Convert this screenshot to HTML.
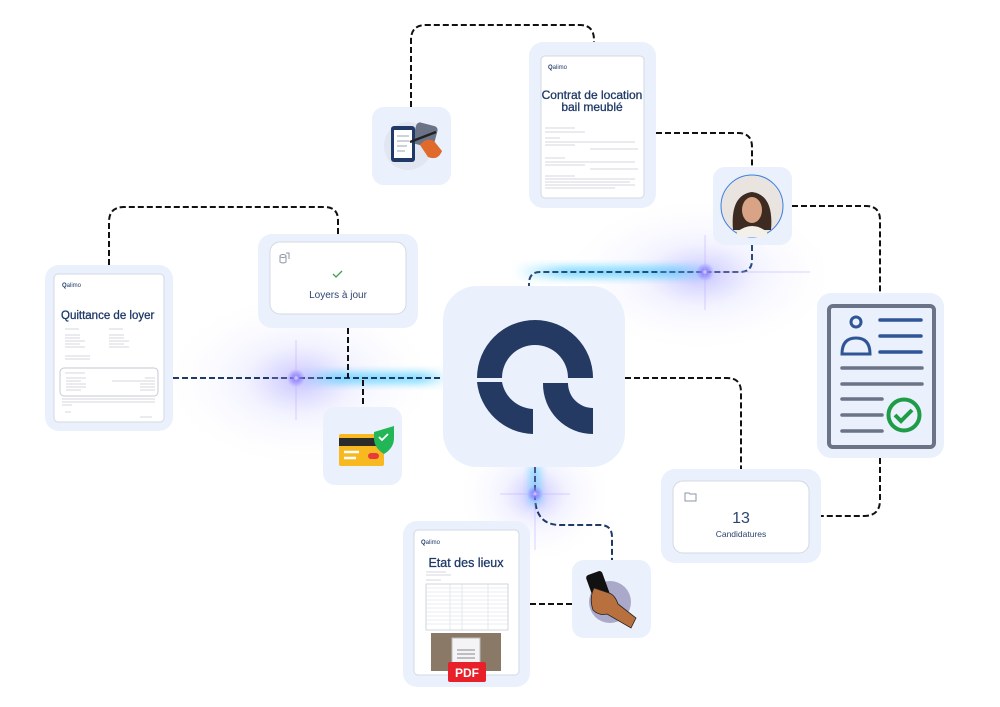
<!DOCTYPE html>
<html><head><meta charset="utf-8"><style>
html,body{margin:0;padding:0;background:#fff;}
svg{display:block;font-family:"Liberation Sans",sans-serif;}
</style></head><body>
<svg width="1000" height="707" viewBox="0 0 1000 707" xmlns="http://www.w3.org/2000/svg">
<defs>
<radialGradient id="g1"><stop offset="0" stop-color="#7a6cff" stop-opacity=".4"/><stop offset=".4" stop-color="#9a9cff" stop-opacity=".12"/><stop offset="1" stop-color="#fff" stop-opacity="0"/></radialGradient>
<radialGradient id="g2"><stop offset="0" stop-color="#fff"/><stop offset=".3" stop-color="#8a7bff" stop-opacity=".8"/><stop offset="1" stop-color="#8a7bff" stop-opacity="0"/></radialGradient>
<linearGradient id="cy" x1="0" x2="1"><stop offset="0" stop-color="#38c8ff" stop-opacity="0"/><stop offset=".25" stop-color="#38c8ff" stop-opacity=".6"/><stop offset=".8" stop-color="#38c8ff" stop-opacity=".6"/><stop offset="1" stop-color="#38c8ff" stop-opacity="0"/></linearGradient>
<filter id="bl" x="-50%" y="-50%" width="200%" height="200%"><feGaussianBlur stdDeviation="4"/></filter>
</defs>

<ellipse cx="300" cy="380" rx="140" ry="90" fill="url(#g1)"/>
<ellipse cx="700" cy="275" rx="140" ry="80" fill="url(#g1)"/>
<ellipse cx="535" cy="495" rx="80" ry="70" fill="url(#g1)"/>
<rect x="300" y="372" width="150" height="12" fill="url(#cy)" filter="url(#bl)"/>
<rect x="515" y="266" width="200" height="12" fill="url(#cy)" filter="url(#bl)"/>
<rect x="529" y="465" width="12" height="40" fill="#38c8ff" opacity=".45" filter="url(#bl)"/>

<g fill="none" stroke="#111" stroke-width="2" stroke-dasharray="6 3">
<path d="M411 107 V40 Q411 25 426 25 H580 Q594 25 594 40 V42"/>
<path d="M656 133 H738 Q752 133 752 147 V167"/>
<path d="M792 206 H866 Q880 206 880 220 V293"/>
<path d="M752 245 V260 Q752 272 740 272 H540 Q529 272 529 284 V286" stroke="#2a4a78"/>
<path d="M109 265 V222 Q109 207 124 207 H324 Q338 207 338 220 V234"/>
<path d="M173 378 H443" stroke="#1e3a66"/>
<path d="M348 328 V378"/>
<path d="M363 380 V407"/>
<path d="M625 378 H727 Q741 378 741 392 V469"/>
<path d="M880 458 V500 Q880 516 864 516 H821"/>
<path d="M535 467 V500 Q537 525 560 525 H600 Q612 525 612 537 V560" stroke="#1e3a66"/>
<path d="M530 604 H572"/>
</g>
<g>
<circle cx="296" cy="378" r="9" fill="url(#g2)"/><path d="M296 340 V420 M270 378 H322" stroke="#b9a8ff" stroke-width="1" opacity=".5"/>
<circle cx="705" cy="272" r="9" fill="url(#g2)"/><path d="M705 235 V310 M660 272 H810" stroke="#b9a8ff" stroke-width="1" opacity=".5"/>
<circle cx="535" cy="494" r="8" fill="url(#g2)"/><path d="M535 465 V550 M500 494 H570" stroke="#b9a8ff" stroke-width="1" opacity=".5"/>
</g>

<rect x="372" y="107" width="79" height="78" rx="12" fill="#eaf1fc"/>
<circle cx="408" cy="146" r="24" fill="#e1e6f0"/>
<rect x="414" y="124" width="22" height="22" rx="4" fill="#6b7386" transform="rotate(15 425 135)"/>
<rect x="391" y="126" width="24" height="36" rx="3" fill="#1f3a68"/>
<rect x="394" y="130" width="18" height="28" fill="#fff"/>
<path d="M397 136h12M397 141h12M397 146h10M397 151h8" stroke="#9aa3b5" stroke-width="1"/>
<path d="M410 142 L436 132" stroke="#222" stroke-width="2.5"/>
<path d="M420 145 q6 -8 14 -4 l8 10 q-4 10 -14 6 z" fill="#e06a2c"/>

<rect x="529" y="42" width="127" height="166" rx="14" fill="#eaf1fc"/>
<rect x="541" y="56" width="103" height="142" rx="4" fill="#fff" stroke="#d3d8e3"/>
<text x="548" y="69" font-size="6" fill="#1f3a68" font-weight="bold">Q<tspan font-weight="normal">alimo</tspan></text>
<text x="592" y="99" font-size="12" fill="#1f3a68" text-anchor="middle" stroke="#1f3a68" stroke-width=".3">Contrat de location</text>
<text x="592" y="111" font-size="12" fill="#1f3a68" text-anchor="middle" stroke="#1f3a68" stroke-width=".3">bail meublé</text>
<g stroke="#c5cad4" stroke-width=".8"><path d="M545 128h30M545 132h40M545 138h15M545 142h90M545 145h30M590 149h48M545 158h20M545 162h90M545 165h40M590 169h48M545 176h30M545 179h90M545 182h85M545 185h90M545 188h70"/></g>

<rect x="713" y="167" width="79" height="78" rx="12" fill="#eaf1fc"/>
<circle cx="752" cy="206" r="31" fill="#e9e4df" stroke="#3a7de0" stroke-width="1"/>
<path d="M733 230 q-3 -35 19 -38 q22 3 19 38 z" fill="#3d2a20"/>
<ellipse cx="752" cy="210" rx="10" ry="13" fill="#d9a485"/>
<path d="M737 232 q15 -12 30 0 l0 5 l-30 0 z" fill="#f3efe9"/>

<rect x="45" y="265" width="128" height="166" rx="14" fill="#eaf1fc"/>
<rect x="54" y="274" width="110" height="148" rx="4" fill="#fff" stroke="#d3d8e3"/>
<text x="62" y="287" font-size="6" fill="#1f3a68" font-weight="bold">Q<tspan font-weight="normal">alimo</tspan></text>
<text x="61" y="319" font-size="11.5" fill="#1f3a68" stroke="#1f3a68" stroke-width=".3">Quittance de loyer</text>
<g stroke="#c5cad4" stroke-width=".8"><path d="M65 329h14M109 329h14M65 335h15M65 338h15M65 341h20M65 344h15M65 347h20M109 335h15M109 338h15M109 341h20M109 344h15M109 347h20M65 356h25M65 359h25"/></g>
<rect x="60" y="368" width="98" height="28" rx="4" fill="none" stroke="#c5cad4"/>
<g stroke="#c5cad4" stroke-width=".8"><path d="M65 373h20M66 378h20M66 381h15M66 384h20M66 387h20M66 390h15M145 378h10M112 381h43M140 384h15M140 387h15M140 390h15M62 399h93M62 402h93M62 405h10M65 412h6M140 417h12"/></g>

<rect x="258" y="234" width="160" height="94" rx="14" fill="#eaf1fc"/>
<rect x="270" y="242" width="136" height="72" rx="10" fill="#fff" stroke="#d3d8e3"/>
<g fill="none" stroke="#8e96a8" stroke-width="1"><ellipse cx="283" cy="256" rx="3" ry="1.5"/><path d="M280 256v6q3 2 6 0v-6M286 253h3v6"/></g>
<path d="M333 274 l3 3 l6 -6" stroke="#3aa34a" stroke-width="1.3" fill="none"/>
<text x="338" y="298" font-size="10" fill="#2e4470" text-anchor="middle">Loyers à jour</text>

<rect x="323" y="407" width="79" height="78" rx="12" fill="#eaf1fc"/>
<rect x="339" y="434" width="45" height="32" rx="2" fill="#f8b820"/>
<rect x="339" y="438" width="45" height="8" fill="#2b2b2b"/>
<path d="M344 452h15M344 458h12" stroke="#fff" stroke-width="2.5"/>
<rect x="368" y="453" width="11" height="6" rx="3" fill="#e83a3a"/>
<path d="M374 432 q10 -3 20 -6 v12 q0 10 -10 16 q-10 -6 -10 -16 z" fill="#22b657"/>
<path d="M379 437 l3 3 l6 -6" stroke="#fff" stroke-width="1.8" fill="none"/>

<rect x="443" y="286" width="182" height="181" rx="34" fill="#eaf1fc"/>
<g fill="#243a63">
<path d="M477 378 A58 58 0 0 1 593 378 H568 A33 33 0 0 0 502 378 Z"/>
<path d="M477 382 A58 58 0 0 0 533 434 V409 A33 33 0 0 1 502 382 Z"/>
<path d="M543 383 H568 A25 25 0 0 0 593 408 V434 A50 50 0 0 1 543 383 Z"/>
</g>

<rect x="817" y="293" width="127" height="165" rx="14" fill="#eaf1fc"/>
<rect x="829" y="306" width="105" height="141" rx="4" fill="none" stroke="#6b7386" stroke-width="4"/>
<circle cx="856" cy="322" r="5" fill="none" stroke="#2f5597" stroke-width="3"/>
<path d="M842 354 q0 -16 14 -16 q14 0 14 16 z" fill="none" stroke="#2f5597" stroke-width="3"/>
<path d="M880 320h41M880 336h41M880 352h41" stroke="#2f5597" stroke-width="3.5" stroke-linecap="round"/>
<path d="M842 368h80M842 384h80M842 399h40M842 415h40M842 431h40" stroke="#6b7386" stroke-width="3.5" stroke-linecap="round"/>
<circle cx="904" cy="415" r="15.5" fill="none" stroke="#1e9c48" stroke-width="4"/>
<path d="M895 415 l6 6 l11 -11" stroke="#1e9c48" stroke-width="4" fill="none"/>

<rect x="661" y="469" width="160" height="94" rx="14" fill="#eaf1fc"/>
<rect x="673" y="481" width="136" height="72" rx="10" fill="#fff" stroke="#d3d8e3"/>
<path d="M685 493h4l1 1h6v7h-11z" fill="none" stroke="#8e96a8"/>
<text x="741" y="523" font-size="16" fill="#2e4470" text-anchor="middle">13</text>
<text x="741" y="537" font-size="8.5" fill="#2e4470" text-anchor="middle">Candidatures</text>

<rect x="403" y="521" width="127" height="166" rx="14" fill="#eaf1fc"/>
<rect x="414" y="530" width="105" height="145" rx="4" fill="#fff" stroke="#d3d8e3"/>
<text x="421" y="544" font-size="6" fill="#1f3a68" font-weight="bold">Q<tspan font-weight="normal">alimo</tspan></text>
<text x="466" y="567" font-size="12.5" fill="#1f3a68" text-anchor="middle" stroke="#1f3a68" stroke-width=".3">Etat des lieux</text>
<g stroke="#c5cad4" stroke-width=".8"><path d="M426 572h20M426 575h25M426 580h15"/></g>
<rect x="426" y="584" width="82" height="46" fill="none" stroke="#c5cad4" stroke-width=".8"/>
<g stroke="#d8dce4" stroke-width=".6"><path d="M426 588h82M426 592h82M426 596h82M426 600h82M426 604h82M426 608h82M426 612h82M426 616h82M426 620h82M426 624h82M450 584v46M462 584v46M488 584v46"/></g>
<rect x="431" y="633" width="70" height="38" fill="#8b7968"/>
<rect x="452" y="638" width="28" height="30" fill="#f4f4f6" stroke="#bbb"/>
<path d="M457 650h18M457 654h18M457 658h18" stroke="#888"/>
<rect x="448" y="662" width="38" height="20" rx="2" fill="#e8202a"/>
<text x="467" y="677" font-size="12" font-weight="bold" fill="#fff" text-anchor="middle">PDF</text>

<rect x="572" y="560" width="79" height="78" rx="12" fill="#eaf1fc"/>
<circle cx="610" cy="602" r="21" fill="#aaa9c9"/>
<rect x="592" y="572" width="17" height="42" rx="3" fill="#111" transform="rotate(-20 600 593)"/>
<path d="M594 588 q-5 10 -1 22 q6 6 14 4 l24 14 l5 -10 l-18 -14 q-3 -9 -9 -11 z" fill="#b8703f" stroke="#222" stroke-width=".8"/>
</svg>
</body></html>
